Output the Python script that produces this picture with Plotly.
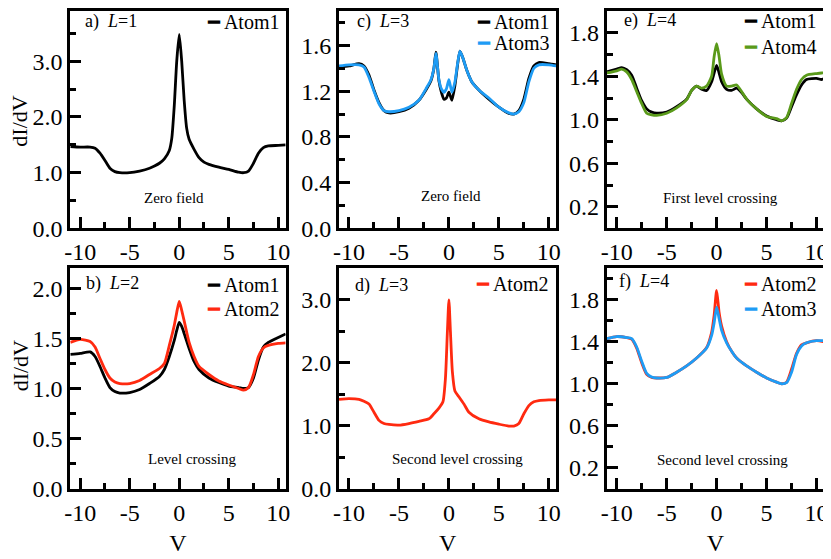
import plotly.graph_objects as go
from plotly.subplots import make_subplots

# colours
BLACK = '#000000'
RED = '#ff2a10'
BLUE = '#1e9cf5'
GREEN = '#5a9a1a'

# a) L=1, zero field
v_a = [-11, -10, -9, -8.5, -8, -7.5, -7, -6.5, -6, -5, -4, -3, -2.5, -2, -1.5, -1, -0.75, -0.5, -0.25,
       0, 0.25, 0.5, 0.75, 1, 1.5, 2, 2.5, 3, 4, 5, 6, 6.5, 7, 7.5, 8, 8.5, 9, 10, 10.75]
a_atom1 = [1.47, 1.46, 1.46, 1.44, 1.35, 1.22, 1.08, 1.02, 1.00, 1.00, 1.03, 1.08, 1.12, 1.17, 1.25, 1.40, 1.62, 2.20, 3.00,
           3.48, 3.00, 2.30, 1.80, 1.60, 1.42, 1.27, 1.19, 1.15, 1.10, 1.06, 1.01, 1.00, 1.03, 1.17, 1.35, 1.45, 1.48, 1.49, 1.50]

# c) L=3, zero field
v_c = [-11, -10, -9, -8.5, -8, -7.5, -7, -6.5, -6, -5, -4, -3, -2.3, -1.8, -1.5, -1.3, -1.0, -0.75, -0.5, -0.25,
       0, 0.3, 0.6, 0.85, 1.1, 1.4, 1.8, 2.3, 3, 4, 5, 6, 6.5, 7, 7.5, 8, 8.5, 9, 10, 10.75]
c_atom1 = [1.41, 1.42, 1.44, 1.42, 1.34, 1.21, 1.10, 1.03, 1.01, 1.02, 1.05, 1.12, 1.21, 1.29, 1.40, 1.54, 1.29, 1.19, 1.13, 1.14,
           1.19, 1.12, 1.25, 1.42, 1.55, 1.49, 1.38, 1.28, 1.21, 1.13, 1.06, 1.005, 1.00, 1.03, 1.13, 1.31, 1.42, 1.45, 1.44, 1.43]
c_atom3 = [1.42, 1.43, 1.43, 1.41, 1.32, 1.20, 1.09, 1.03, 1.02, 1.03, 1.06, 1.12, 1.22, 1.30, 1.40, 1.53, 1.30, 1.22, 1.19, 1.22,
           1.30, 1.19, 1.28, 1.43, 1.55, 1.49, 1.38, 1.28, 1.21, 1.14, 1.06, 1.01, 1.00, 1.02, 1.10, 1.28, 1.40, 1.43, 1.43, 1.42]

# e) L=4, first level crossing
v_e = [-11, -10, -9.5, -9, -8.5, -8, -7.5, -7, -6.5, -6, -5, -4, -3, -2.5, -2, -1.5, -1, -0.5, -0.25,
       0, 0.25, 0.5, 1, 1.5, 2, 2.5, 3, 4, 5, 6, 6.5, 7, 7.5, 8, 8.5, 9, 10, 10.5, 10.8]
e_atom1 = [1.44, 1.466, 1.48, 1.46, 1.41, 1.29, 1.175, 1.10, 1.07, 1.06, 1.07, 1.12, 1.19, 1.27, 1.31, 1.28, 1.27, 1.35, 1.43,
           1.50, 1.43, 1.35, 1.28, 1.27, 1.29, 1.25, 1.19, 1.10, 1.035, 1.00, 0.99, 1.015, 1.12, 1.23, 1.32, 1.37, 1.38, 1.37, 1.38]
e_atom4 = [1.43, 1.45, 1.465, 1.44, 1.37, 1.26, 1.15, 1.06, 1.045, 1.04, 1.06, 1.11, 1.185, 1.27, 1.31, 1.29, 1.31, 1.40, 1.58,
           1.70, 1.58, 1.42, 1.31, 1.31, 1.32, 1.26, 1.19, 1.10, 1.03, 1.01, 0.99, 1.02, 1.15, 1.28, 1.37, 1.41, 1.425, 1.43, 1.43]

# b) L=2, level crossing
v_b = [-11, -10, -9, -8.5, -8, -7.5, -7, -6.5, -6, -5, -4, -3, -2, -1.5, -1, -0.5, -0.25,
       0, 0.25, 0.5, 1, 1.5, 2, 3, 4, 5, 6, 6.5, 7, 7.5, 8, 8.5, 9, 10, 10.75]
b_atom1 = [1.34, 1.35, 1.365, 1.32, 1.22, 1.105, 1.01, 0.97, 0.955, 0.96, 0.99, 1.05, 1.12, 1.19, 1.32, 1.48, 1.58,
           1.66, 1.62, 1.55, 1.40, 1.27, 1.19, 1.105, 1.06, 1.025, 1.01, 1.00, 1.01, 1.105, 1.285, 1.415, 1.46, 1.51, 1.545]
b_atom2 = [1.46, 1.49, 1.47, 1.415, 1.30, 1.19, 1.105, 1.065, 1.05, 1.05, 1.08, 1.14, 1.20, 1.25, 1.43, 1.63, 1.76,
           1.87, 1.78, 1.675, 1.46, 1.32, 1.22, 1.14, 1.075, 1.035, 1.00, 0.985, 1.01, 1.14, 1.32, 1.405, 1.43, 1.45, 1.455]

# d) L=3, second level crossing
v_d = [-11, -10, -9, -8.5, -8, -7.5, -7, -6.5, -6, -5, -4, -3, -2, -1.5, -1, -0.6, -0.35, -0.15,
       0, 0.15, 0.35, 0.6, 1, 1.5, 2, 3, 4, 5, 6, 6.5, 7, 7.5, 8, 8.5, 9, 10, 10.8]
d_atom2 = [1.42, 1.43, 1.42, 1.39, 1.345, 1.215, 1.085, 1.035, 1.02, 1.01, 1.035, 1.07, 1.11, 1.19, 1.28, 1.38, 1.75, 2.50,
           3.00, 2.50, 1.85, 1.55, 1.46, 1.345, 1.215, 1.11, 1.06, 1.025, 0.995, 0.995, 1.035, 1.19, 1.32, 1.38, 1.40, 1.41, 1.41]

# f) L=4, second level crossing
v_f = [-11, -10, -9, -8.5, -8, -7.5, -7, -6.5, -6, -5, -4, -3, -2, -1, -0.5, -0.25,
       0, 0.25, 0.5, 1, 1.5, 2, 3, 4, 5, 6, 6.5, 7, 7.5, 8, 8.5, 9, 10, 10.8]
f_atom2 = [1.43, 1.45, 1.44, 1.425, 1.34, 1.20, 1.09, 1.06, 1.055, 1.06, 1.11, 1.17, 1.245, 1.345, 1.49, 1.65,
           1.89, 1.68, 1.55, 1.40, 1.31, 1.245, 1.17, 1.11, 1.055, 1.015, 1.00, 1.015, 1.14, 1.29, 1.37, 1.39, 1.41, 1.40]
f_atom3 = [1.43, 1.45, 1.44, 1.43, 1.35, 1.215, 1.10, 1.065, 1.055, 1.06, 1.11, 1.17, 1.245, 1.34, 1.46, 1.58,
           1.73, 1.62, 1.51, 1.39, 1.31, 1.245, 1.17, 1.11, 1.055, 1.015, 1.00, 1.01, 1.11, 1.28, 1.36, 1.39, 1.41, 1.41]

# row, col, label, note, y range, major dtick, minor dtick, first tick, traces
panels = [
    (1, 1, 'a)  <i>L</i>=1', 'Zero field', [0, 3.9], 1.0, 0.5, 0.0,
     [('Atom1', v_a, a_atom1, BLACK)]),
    (1, 2, 'c)  <i>L</i>=3', 'Zero field', [0, 1.9], 0.4, 0.2, 0.0,
     [('Atom1', v_c, c_atom1, BLACK), ('Atom3', v_c, c_atom3, BLUE)]),
    (1, 3, 'e)  <i>L</i>=4', 'First level crossing', [0, 2.0], 0.4, 0.2, 0.2,
     [('Atom1', v_e, e_atom1, BLACK), ('Atom4', v_e, e_atom4, GREEN)]),
    (2, 1, 'b)  <i>L</i>=2', 'Level crossing', [0, 2.2], 0.5, 0.25, 0.0,
     [('Atom1', v_b, b_atom1, BLACK), ('Atom2', v_b, b_atom2, RED)]),
    (2, 2, 'd)  <i>L</i>=3', 'Second level crossing', [0, 3.5], 1.0, 0.5, 0.0,
     [('Atom2', v_d, d_atom2, RED)]),
    (2, 3, 'f)  <i>L</i>=4', 'Second level crossing', [0, 2.1], 0.4, 0.2, 0.2,
     [('Atom2', v_f, f_atom2, RED), ('Atom3', v_f, f_atom3, BLUE)]),
]

# the page puts the figure 8px in from the top-left corner; work in window pixels
OFF = 8
W, H = 831 - OFF, 559 - OFF


def fx(px):
    return (px - OFF) / W


def fy(py):
    return min(1.0, 1 - (py - OFF) / H)


x_dom = [[fx(65), fx(283)], [fx(337), fx(557)], [fx(608), fx(828)]]
y_dom = [[fy(232), fy(8)], [fy(500), fy(273)]]

# text placement in window pixels: panel label, note centre, key right edge, key item y's
label_px = [78, 353, 623, 79, 351, 618]
label_py = [19, 19, 18, 289, 291, 287]
note_pxy = [(170, 201), (450, 199), (723, 201), (188, 469), (457, 469), (725, 470)]
key_px = [278, 552, 822, 278, 551, 822]
key_py = [[19], [19, 41], [18, 45], [290, 315], [289], [289, 315]]
ytitle_py = [121, 373]

FONT = 'Liberation Serif'

fig = make_subplots(rows=2, cols=3)

for i, (row, col, label, note, yr, dt, mdt, t0, traces) in enumerate(panels):
    for k, (name, xs, ys, color) in enumerate(traces):
        fig.add_trace(go.Scatter(x=xs, y=ys, name=name, mode='lines', showlegend=False,
                                 line=dict(color=color, width=2.8, shape='spline', smoothing=0.6)),
                      row=row, col=col)
        # key entry: short coloured dash + name
        fig.add_annotation(text=f'<span style="color:{color}">━</span> {name}',
                           xref='paper', yref='paper', x=fx(key_px[i]), y=fy(key_py[i][k]),
                           xanchor='right', yanchor='middle', showarrow=False,
                           font=dict(family=FONT, size=20, color='black'))
    fig.update_xaxes(range=[-11, 10.75], tickvals=[-10, -5, 0, 5, 10], ticktext=['-10', '-5', '0', '5', '10'],
                     minor=dict(dtick=2.5, tick0=0, ticks='inside', ticklen=6, tickwidth=2.5, tickcolor='black'),
                     domain=x_dom[col - 1], row=row, col=col)
    fig.update_yaxes(range=yr, dtick=dt, tick0=t0, tickformat='.1f',
                     minor=dict(dtick=mdt, tick0=0, ticks='inside', ticklen=6, tickwidth=2.5, tickcolor='black'),
                     domain=y_dom[row - 1], row=row, col=col)
    fig.add_annotation(text=label, xref='paper', yref='paper', x=fx(label_px[i]), y=fy(label_py[i]),
                       xanchor='left', yanchor='middle', showarrow=False,
                       font=dict(family=FONT, size=18, color='black'))
    fig.add_annotation(text=note, xref='paper', yref='paper', x=fx(note_pxy[i][0]), y=fy(note_pxy[i][1]),
                       xanchor='center', yanchor='middle', showarrow=False,
                       font=dict(family=FONT, size=15, color='black'))

# y titles for the left column, set as rotated text at the page edge
for py in ytitle_py:
    fig.add_annotation(text='dI/dV', xref='paper', yref='paper', x=fx(14), y=fy(py), textangle=-90,
                       xanchor='center', yanchor='middle', showarrow=False,
                       font=dict(family=FONT, size=22, color='black'))

fig.update_xaxes(showline=True, mirror=True, linewidth=3, linecolor='black', ticks='inside', ticklen=11,
                 tickwidth=3, tickcolor='black', showgrid=False, zeroline=False,
                 tickfont=dict(family=FONT, size=24, color='black'))
fig.update_yaxes(showline=True, mirror=True, linewidth=3, linecolor='black', ticks='inside', ticklen=11,
                 tickwidth=3, tickcolor='black', showgrid=False, zeroline=False,
                 tickfont=dict(family=FONT, size=24, color='black'))

for c in (1, 2, 3):
    fig.update_xaxes(title=dict(text='V', font=dict(family=FONT, size=24, color='black'), standoff=10),
                     row=2, col=c)

fig.update_layout(width=W, height=H, margin=dict(l=0, r=0, t=0, b=0),
                  plot_bgcolor='white', paper_bgcolor='white')

fig.write_html("out.html")
